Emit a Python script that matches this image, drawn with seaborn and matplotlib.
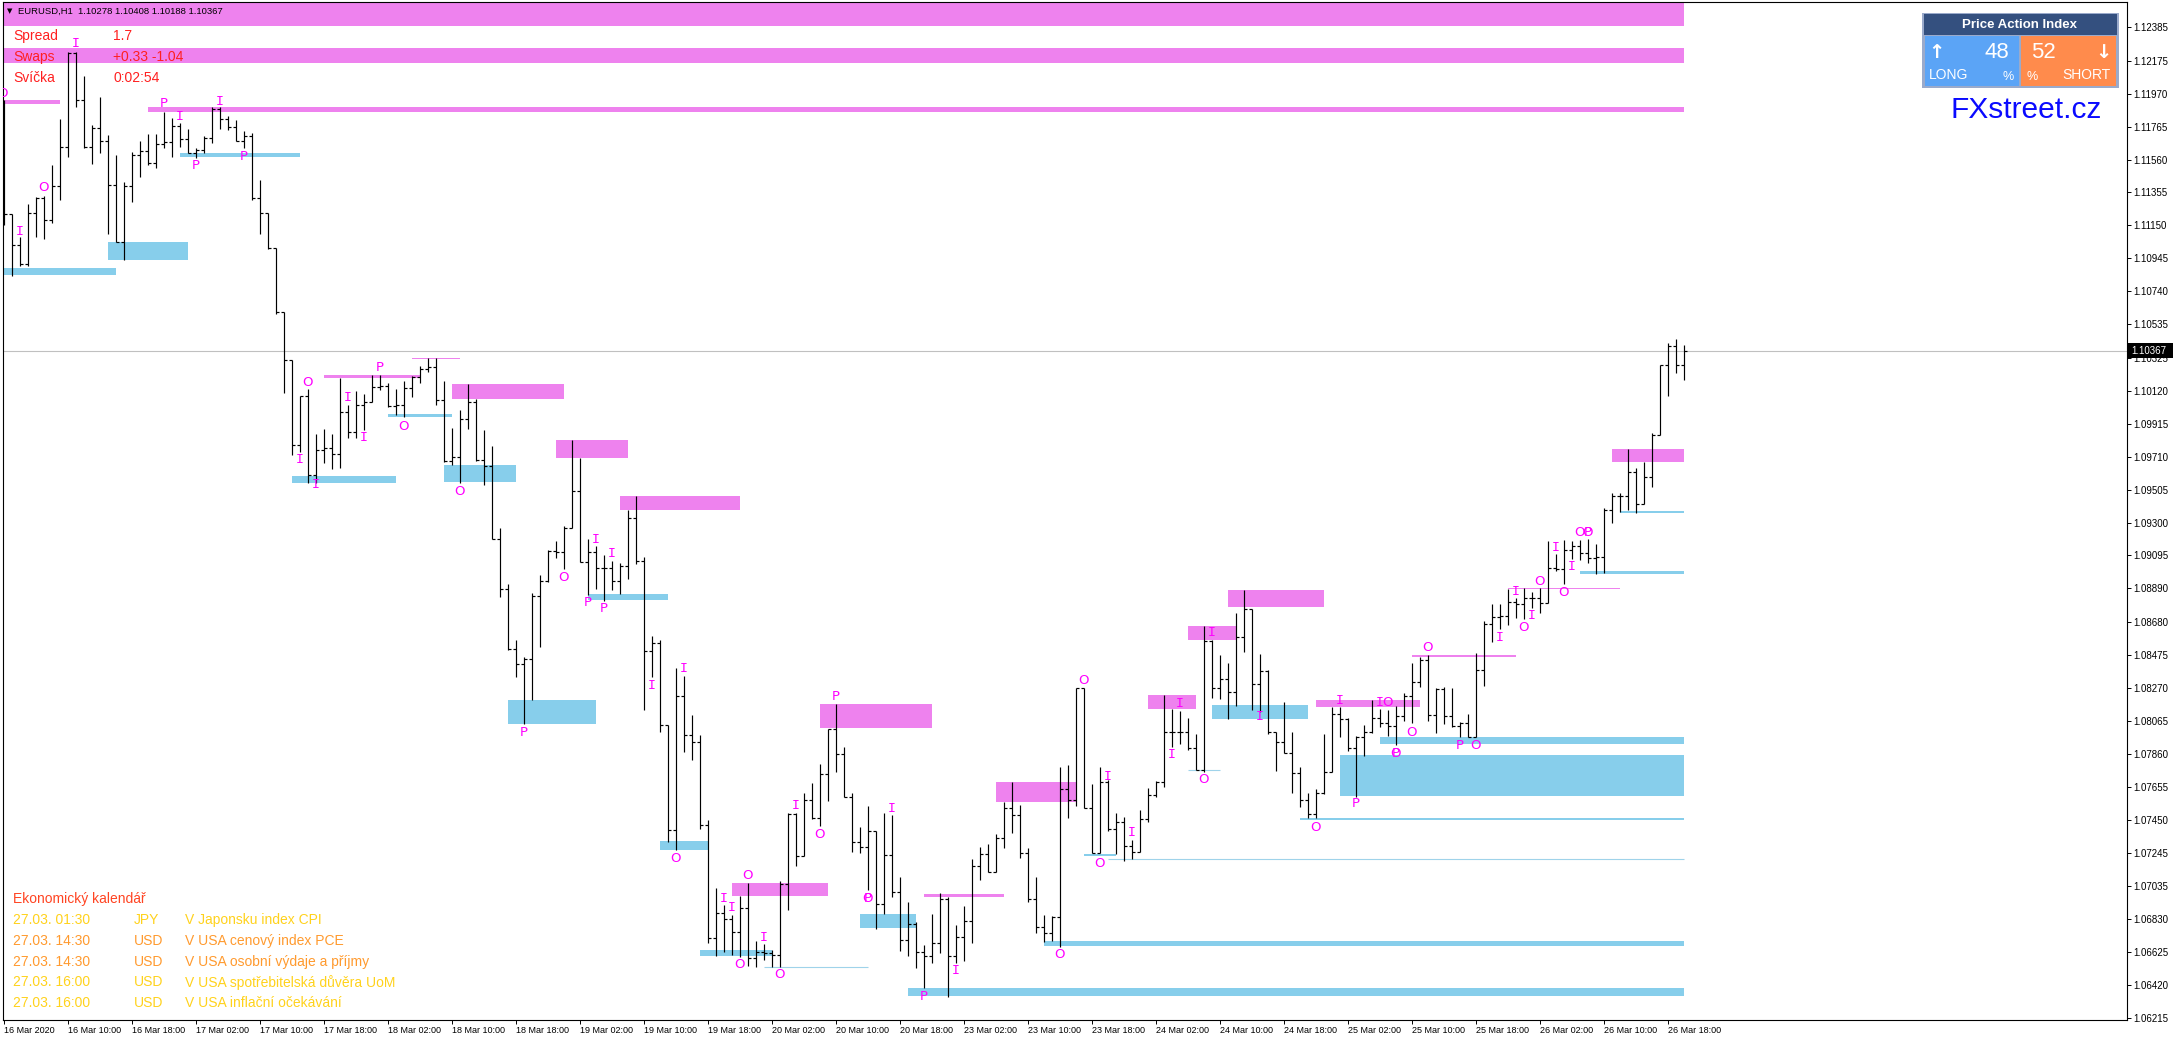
import matplotlib
matplotlib.use("Agg")
import matplotlib.pyplot as plt
import seaborn as sns
import pandas as pd
from matplotlib.patches import Rectangle

# ---- EURUSD H1 bars (16 Mar 02:00 .. 26 Mar 20:00) ----
opens = [1.11899, 1.11221, 1.11028, 1.10909, 1.11227, 1.11320, 1.11183, 1.11395, 1.11638, 1.12223,
         1.11930, 1.11638, 1.11756, 1.11675, 1.11401, 1.11046, 1.11395, 1.11588, 1.11613, 1.11538,
         1.11656, 1.11669, 1.11769, 1.11688, 1.11600, 1.11619, 1.11694, 1.11874, 1.11812, 1.11762,
         1.11675, 1.11706, 1.11320, 1.11227, 1.11009, 1.10611, 1.10312, 1.09782, 1.10088, 1.09596,
         1.09751, 1.09764, 1.09726, 1.09988, 1.09863, 1.10032, 1.10050, 1.10144, 1.10150, 1.10025,
         1.10032, 1.10137, 1.10206, 1.10256, 1.10268, 1.10063, 1.09683, 1.09708, 1.09944, 1.10050,
         1.09689, 1.09652, 1.09197, 1.08886, 1.08512, 1.08419, 1.08450, 1.08842, 1.08936, 1.09123,
         1.09116, 1.09266, 1.09496, 1.09054, 1.09116, 1.09017, 1.09017, 1.08936, 1.09029, 1.09328,
         1.09060, 1.08500, 1.08550, 1.08039, 1.07385, 1.08220, 1.07977, 1.07933, 1.07417, 1.06713,
         1.06869, 1.06831, 1.06750, 1.06900, 1.06589, 1.06626, 1.06620, 1.06607, 1.07049, 1.07485,
         1.07224, 1.07572, 1.07460, 1.07734, 1.08014, 1.07859, 1.07591, 1.07311, 1.07280, 1.07379,
         1.06925, 1.07230, 1.06999, 1.06701, 1.06800, 1.06626, 1.06601, 1.06682, 1.06956, 1.06601,
         1.06719, 1.06819, 1.07161, 1.07236, 1.07124, 1.07336, 1.07522, 1.07479, 1.07242, 1.06956,
         1.06782, 1.06744, 1.06844, 1.07641, 1.07572, 1.08270, 1.07522, 1.07242, 1.07684, 1.07392,
         1.07435, 1.07286, 1.07248, 1.07454, 1.07603, 1.07684, 1.07996, 1.07996, 1.07996, 1.07896,
         1.07759, 1.08562, 1.08270, 1.08326, 1.08245, 1.08587, 1.08761, 1.08294, 1.08375, 1.07996,
         1.07933, 1.07865, 1.07740, 1.07572, 1.07485, 1.07616, 1.07747, 1.08108, 1.08077, 1.07896,
         1.07964, 1.07996, 1.08083, 1.08052, 1.08033, 1.08095, 1.08220, 1.08307, 1.08444, 1.08101,
         1.08263, 1.08095, 1.08033, 1.08052, 1.07964, 1.08382, 1.08668, 1.08712, 1.08718, 1.08805,
         1.08792, 1.08830, 1.08830, 1.08799, 1.09017, 1.09010, 1.09129, 1.09154, 1.09110, 1.09079,
         1.09085, 1.09378, 1.09465, 1.09465, 1.09614, 1.09415, 1.09583, 1.09845, 1.10281, 1.10399,
         1.10278]
highs = [1.11930, 1.11221, 1.11077, 1.11283, 1.11327, 1.11333, 1.11526, 1.11812, 1.12229, 1.12229,
         1.12080, 1.11775, 1.11949, 1.11713, 1.11588, 1.11420, 1.11607, 1.11675, 1.11719, 1.11719,
         1.11856, 1.11818, 1.11787, 1.11750, 1.11632, 1.11706, 1.11887, 1.11887, 1.11831, 1.11806,
         1.11737, 1.11725, 1.11432, 1.11227, 1.11009, 1.10611, 1.10312, 1.10088, 1.10131, 1.09851,
         1.09882, 1.09851, 1.10200, 1.10032, 1.10119, 1.10100, 1.10218, 1.10218, 1.10168, 1.10131,
         1.10181, 1.10212, 1.10274, 1.10324, 1.10324, 1.10181, 1.09888, 1.10000, 1.10162, 1.10069,
         1.09876, 1.09776, 1.09266, 1.08917, 1.08568, 1.08463, 1.08861, 1.08973, 1.09129, 1.09185,
         1.09278, 1.09814, 1.09701, 1.09197, 1.09154, 1.09098, 1.09060, 1.09048, 1.09378, 1.09465,
         1.09085, 1.08593, 1.08568, 1.08039, 1.08394, 1.08344, 1.08101, 1.07977, 1.07448, 1.07024,
         1.06919, 1.06856, 1.06975, 1.07055, 1.06694, 1.06676, 1.06638, 1.07068, 1.07491, 1.07491,
         1.07616, 1.07678, 1.07796, 1.08014, 1.08170, 1.07902, 1.07616, 1.07404, 1.07535, 1.07379,
         1.07491, 1.07479, 1.07093, 1.06937, 1.06813, 1.06669, 1.06862, 1.06993, 1.06968, 1.06794,
         1.06912, 1.07205, 1.07280, 1.07298, 1.07361, 1.07560, 1.07684, 1.07541, 1.07273, 1.07093,
         1.06856, 1.06850, 1.07778, 1.07790, 1.08270, 1.08270, 1.07672, 1.07778, 1.07697, 1.07491,
         1.07466, 1.07323, 1.07510, 1.07647, 1.07691, 1.08226, 1.08139, 1.08126, 1.08083, 1.07983,
         1.08656, 1.08568, 1.08475, 1.08425, 1.08737, 1.08880, 1.08761, 1.08481, 1.08382, 1.07996,
         1.08182, 1.07996, 1.07778, 1.07616, 1.07641, 1.07983, 1.08151, 1.08151, 1.08083, 1.07971,
         1.08039, 1.08195, 1.08139, 1.08133, 1.08157, 1.08238, 1.08425, 1.08463, 1.08475, 1.08270,
         1.08276, 1.08270, 1.08058, 1.08108, 1.08487, 1.08687, 1.08792, 1.08792, 1.08886, 1.08830,
         1.08892, 1.08867, 1.08892, 1.09185, 1.09104, 1.09191, 1.09185, 1.09191, 1.09197, 1.09166,
         1.09390, 1.09484, 1.09484, 1.09758, 1.09639, 1.09677, 1.09857, 1.10281, 1.10418, 1.10442,
         1.10408]
lows = [1.11152, 1.10835, 1.10897, 1.10897, 1.11077, 1.11065, 1.11165, 1.11308, 1.11576, 1.11887,
        1.11632, 1.11532, 1.11600, 1.11096, 1.11046, 1.10934, 1.11295, 1.11451, 1.11526, 1.11507,
        1.11632, 1.11576, 1.11638, 1.11600, 1.11569, 1.11600, 1.11663, 1.11750, 1.11744, 1.11675,
        1.11632, 1.11308, 1.11096, 1.11003, 1.10598, 1.10106, 1.09720, 1.09739, 1.09546, 1.09546,
        1.09670, 1.09633, 1.09639, 1.09826, 1.09826, 1.09876, 1.10050, 1.10125, 1.10019, 1.09969,
        1.09957, 1.10081, 1.10168, 1.10237, 1.10032, 1.09677, 1.09658, 1.09546, 1.09882, 1.09683,
        1.09533, 1.09197, 1.08836, 1.08506, 1.08338, 1.08045, 1.08195, 1.08525, 1.08930, 1.09079,
        1.09010, 1.09266, 1.09054, 1.08849, 1.08886, 1.08811, 1.08880, 1.08855, 1.08948, 1.09042,
        1.08133, 1.08338, 1.07996, 1.07311, 1.07261, 1.07871, 1.07821, 1.07392, 1.06682, 1.06601,
        1.06626, 1.06607, 1.06595, 1.06539, 1.06533, 1.06576, 1.06533, 1.06533, 1.06887, 1.07161,
        1.07224, 1.07454, 1.07410, 1.07566, 1.07747, 1.07591, 1.07248, 1.07242, 1.07012, 1.06769,
        1.06862, 1.06968, 1.06632, 1.06601, 1.06526, 1.06402, 1.06557, 1.06620, 1.06346, 1.06557,
        1.06570, 1.06682, 1.07074, 1.07124, 1.07124, 1.07273, 1.07367, 1.07211, 1.06937, 1.06744,
        1.06688, 1.06694, 1.06657, 1.07460, 1.07535, 1.07522, 1.07242, 1.07242, 1.07379, 1.07236,
        1.07192, 1.07205, 1.07248, 1.07435, 1.07591, 1.07653, 1.07902, 1.07921, 1.07884, 1.07759,
        1.07747, 1.08207, 1.08201, 1.08077, 1.08157, 1.08494, 1.08133, 1.08120, 1.07983, 1.07753,
        1.07865, 1.07616, 1.07529, 1.07460, 1.07460, 1.07610, 1.07747, 1.07964, 1.07877, 1.07591,
        1.07846, 1.07989, 1.08027, 1.07971, 1.07915, 1.08064, 1.08052, 1.08276, 1.08064, 1.07989,
        1.08045, 1.08027, 1.07964, 1.07964, 1.07964, 1.08282, 1.08556, 1.08637, 1.08662, 1.08705,
        1.08699, 1.08768, 1.08737, 1.08799, 1.08998, 1.08917, 1.09073, 1.09067, 1.09048, 1.08979,
        1.08986, 1.09297, 1.09365, 1.09378, 1.09359, 1.09415, 1.09521, 1.09845, 1.10088, 1.10231,
        1.10188]
closes = [1.11221, 1.11028, 1.10909, 1.11227, 1.11320, 1.11183, 1.11395, 1.11638, 1.12223, 1.11930,
          1.11638, 1.11756, 1.11675, 1.11401, 1.11046, 1.11395, 1.11588, 1.11613, 1.11538, 1.11656,
          1.11669, 1.11769, 1.11688, 1.11600, 1.11619, 1.11694, 1.11874, 1.11812, 1.11762, 1.11675,
          1.11706, 1.11320, 1.11227, 1.11009, 1.10611, 1.10312, 1.09782, 1.10088, 1.09596, 1.09751,
          1.09764, 1.09726, 1.09988, 1.09863, 1.10032, 1.10050, 1.10144, 1.10150, 1.10025, 1.10032,
          1.10137, 1.10206, 1.10256, 1.10268, 1.10063, 1.09683, 1.09708, 1.09944, 1.10050, 1.09689,
          1.09652, 1.09197, 1.08886, 1.08512, 1.08419, 1.08450, 1.08842, 1.08936, 1.09123, 1.09116,
          1.09266, 1.09496, 1.09054, 1.09116, 1.09017, 1.09017, 1.08936, 1.09029, 1.09328, 1.09060,
          1.08500, 1.08550, 1.08039, 1.07385, 1.08220, 1.07977, 1.07933, 1.07417, 1.06713, 1.06869,
          1.06831, 1.06750, 1.06900, 1.06589, 1.06626, 1.06620, 1.06607, 1.07049, 1.07485, 1.07224,
          1.07572, 1.07460, 1.07734, 1.08014, 1.07859, 1.07591, 1.07311, 1.07280, 1.07379, 1.06925,
          1.07230, 1.06999, 1.06701, 1.06800, 1.06626, 1.06601, 1.06682, 1.06956, 1.06601, 1.06719,
          1.06819, 1.07161, 1.07236, 1.07124, 1.07336, 1.07522, 1.07479, 1.07242, 1.06956, 1.06782,
          1.06744, 1.06844, 1.07641, 1.07572, 1.08270, 1.07522, 1.07242, 1.07684, 1.07392, 1.07435,
          1.07286, 1.07248, 1.07454, 1.07603, 1.07684, 1.07996, 1.07996, 1.07996, 1.07896, 1.07759,
          1.08562, 1.08270, 1.08326, 1.08245, 1.08587, 1.08761, 1.08294, 1.08375, 1.07996, 1.07933,
          1.07865, 1.07740, 1.07572, 1.07485, 1.07616, 1.07747, 1.08108, 1.08077, 1.07896, 1.07964,
          1.07996, 1.08083, 1.08052, 1.08033, 1.08095, 1.08220, 1.08307, 1.08444, 1.08101, 1.08263,
          1.08095, 1.08033, 1.08052, 1.07964, 1.08382, 1.08668, 1.08712, 1.08718, 1.08805, 1.08792,
          1.08830, 1.08830, 1.08799, 1.09017, 1.09010, 1.09129, 1.09154, 1.09110, 1.09079, 1.09085,
          1.09378, 1.09465, 1.09465, 1.09614, 1.09415, 1.09583, 1.09845, 1.10281, 1.10399, 1.10278,
          1.10367]
current_price = 1.10367

date_labels = ["16 Mar 2020", "16 Mar 10:00", "16 Mar 18:00", "17 Mar 02:00", "17 Mar 10:00",
               "17 Mar 18:00", "18 Mar 02:00", "18 Mar 10:00", "18 Mar 18:00", "19 Mar 02:00",
               "19 Mar 10:00", "19 Mar 18:00", "20 Mar 02:00", "20 Mar 10:00", "20 Mar 18:00",
               "23 Mar 02:00", "23 Mar 10:00", "23 Mar 18:00", "24 Mar 02:00", "24 Mar 10:00",
               "24 Mar 18:00", "25 Mar 02:00", "25 Mar 10:00", "25 Mar 18:00", "26 Mar 02:00",
               "26 Mar 10:00", "26 Mar 18:00"]
price_ticks = [1.12385, 1.12175, 1.11970, 1.11765, 1.11560, 1.11355, 1.11150, 1.10945, 1.10740,
               1.10535, 1.10325, 1.10120, 1.09915, 1.09710, 1.09505, 1.09300, 1.09095, 1.08890,
               1.08680, 1.08475, 1.08270, 1.08065, 1.07860, 1.07655, 1.07450, 1.07245, 1.07035,
               1.06830, 1.06625, 1.06420, 1.06215]

# supply (violet) zones: start bar, end bar, top, bottom
supply_start = [0, 0, 0, 18, 40, 51, 56, 69, 77, 91, 102, 115, 124, 143, 148, 153, 164, 176, 188, 201]
supply_end = [210, 210, 7, 210, 52, 57, 70, 78, 92, 103, 116, 125, 134, 149, 154, 165, 177, 189, 202, 210]
supply_top = [1.12600, 1.12254, 1.11930, 1.11887, 1.10218, 1.10327, 1.10162, 1.09814, 1.09465, 1.07055,
              1.08170, 1.06987, 1.07684, 1.08226, 1.08656, 1.08880, 1.08195, 1.08475, 1.08895, 1.09758]
supply_bottom = [1.12391, 1.12161, 1.11906, 1.11856, 1.10200, 1.10321, 1.10069, 1.09701, 1.09378, 1.06975,
                 1.08021, 1.06968, 1.07560, 1.08139, 1.08568, 1.08774, 1.08151, 1.08463, 1.08889, 1.09677]

# demand (sky blue) zones
demand_start = [0, 13, 22, 36, 48, 55, 73, 63, 82, 87, 107, 113, 130, 135, 151, 162, 172, 167, 197, 202]
demand_end = [14, 23, 37, 49, 56, 64, 83, 74, 88, 96, 114, 210, 210, 139, 163, 210, 210, 210, 210, 210]
demand_top = [1.10884, 1.11046, 1.11600, 1.09589, 1.09975, 1.09658, 1.08855, 1.08195, 1.07317, 1.06638,
              1.06862, 1.06402, 1.06694, 1.07236, 1.08164, 1.07460, 1.07964, 1.07852, 1.08998, 1.09372]
demand_bottom = [1.10841, 1.10934, 1.11576, 1.09546, 1.09957, 1.09552, 1.08817, 1.08045, 1.07261, 1.06601,
                 1.06775, 1.06352, 1.06663, 1.07224, 1.08077, 1.07448, 1.07921, 1.07597, 1.08979, 1.09359]

# thin light-blue levels
level_start = [95, 138, 148]
level_end = [108, 210, 152]
level_price = [1.06533, 1.07205, 1.07759]

# P / I / O markers
label_text = ["O", "I", "I", "O", "P", "I", "I", "P", "P", "O", "I", "I", "I", "I", "P", "O",
              "O", "O", "P", "I", "I", "P", "P", "I", "I", "O", "P", "I", "O", "O", "I", "I",
              "O", "I", "O", "O", "P", "I", "P", "I", "O", "O", "O", "I", "I", "I", "I", "O",
              "I", "I", "O", "P", "I", "I", "O", "O", "P", "O", "O", "P", "O", "I", "I", "O",
              "I", "O", "O", "I", "I", "O", "O", "P"]
label_bar = [-0.2, 9, 2, 5, 20, 22, 27, 24, 30, 38, 37, 39, 43, 45, 47, 50,
             57, 70, 65, 74, 76, 73, 75, 81, 85, 84, 104, 99, 102, 93, 90, 91,
             92, 95, 97, 108, 108, 111, 115, 119, 132, 135, 137, 138, 141, 147, 146, 150,
             151, 157, 164, 169, 167, 172, 173, 174, 174, 176, 178, 182, 184, 187, 189, 190,
             191, 192, 195, 194, 196, 197, 198, 198]
label_price = [1.11974, 1.12285, 1.11115, 1.11383, 1.11906, 1.11831, 1.11924, 1.11526, 1.11582, 1.10175,
               1.09695, 1.09540, 1.10081, 1.09832, 1.10268, 1.09901, 1.09496, 1.08961, 1.07996, 1.09197,
               1.09110, 1.08805, 1.08768, 1.08288, 1.08394, 1.07211, 1.08220, 1.07541, 1.07361, 1.07105,
               1.06962, 1.06906, 1.06551, 1.06719, 1.06489, 1.06962, 1.06962, 1.07522, 1.06352, 1.06514,
               1.06613, 1.08319, 1.07180, 1.07722, 1.07373, 1.08176, 1.07859, 1.07703, 1.08618, 1.08095,
               1.07404, 1.07553, 1.08195, 1.08182, 1.08182, 1.07865, 1.07865, 1.07996, 1.08525, 1.07915,
               1.07915, 1.08587, 1.08873, 1.08649, 1.08724, 1.08930, 1.08867, 1.09147, 1.09029, 1.09241,
               1.09241, 1.09241]

info_names = ["Spread", "Swaps", "Svíčka"]
info_values = ["1.7", "+0.33 -1.04", "0:02:54"]

cal_times = ["27.03. 01:30", "27.03. 14:30", "27.03. 14:30", "27.03. 16:00", "27.03. 16:00"]
cal_currency = ["JPY", "USD", "USD", "USD", "USD"]
cal_events = ["V Japonsku index CPI", "V USA cenový index PCE", "V USA osobní výdaje a příjmy",
              "V USA spotřebitelská důvěra UoM", "V USA inflační očekávání"]
cal_colors = ["#ffd21c", "#ff9a2e", "#ff9a2e", "#ffd21c", "#ffd21c"]

long_pct = 48
short_pct = 52

df = pd.DataFrame({"open": opens, "high": highs, "low": lows, "close": closes})
df["bar"] = range(len(df))

sns.set_theme(style="white")
plt.rcParams["font.family"] = ["Liberation Sans", "DejaVu Sans"]

W, H = 2173, 1041
fig = plt.figure(figsize=(W / 100, H / 100), dpi=100)
fig.patch.set_facecolor("white")
ax = fig.add_axes([3 / W, 21 / H, 2124 / W, 1018 / H])
ax.set_facecolor("white")
ax.set_xlim(-0.0875, 265.41)
ax.set_ylim(1.06203, 1.12541)

for s, e, t, b in zip(supply_start, supply_end, supply_top, supply_bottom):
    ax.add_patch(Rectangle((s, b), e - s, t - b, facecolor="#ee82ee", edgecolor="none", zorder=1))
for s, e, t, b in zip(demand_start, demand_end, demand_top, demand_bottom):
    ax.add_patch(Rectangle((s, b), e - s, t - b, facecolor="#87ceeb", edgecolor="none", zorder=1))
ax.hlines(level_price, level_start, level_end, color="#9fd3ea", lw=0.8, zorder=1)

ax.axhline(current_price, color="#c0c0c0", lw=0.8, zorder=1.5)

# OHLC bars
ax.vlines(df["bar"], df["low"], df["high"], color="black", lw=0.85, zorder=2)
ax.hlines(df["open"], df["bar"] - 0.375, df["bar"], color="black", lw=0.85, zorder=2)
ax.hlines(df["close"], df["bar"], df["bar"] + 0.375, color="black", lw=0.85, zorder=2)

for t, b, p in zip(label_text, label_bar, label_price):
    fam = "DejaVu Sans Mono" if t == "I" else "DejaVu Sans"
    ax.text(b, p, t, color="#ff00ff", fontsize=9.5, family=fam, ha="center", va="center",
            zorder=3, clip_on=True)

for sp in ax.spines.values():
    sp.set_color("black")
    sp.set_linewidth(0.8)

ax.set_xticks(range(0, len(df), 8))
ax.set_xticklabels(date_labels, ha="left")
ax.tick_params(axis="x", bottom=True, length=3, width=0.7, pad=1.5, labelsize=6.5,
               colors="black", direction="out")
ax.yaxis.tick_right()
ax.set_yticks(price_ticks)
ax.set_yticklabels([f"{v:.5f}" for v in price_ticks])
ax.tick_params(axis="y", right=True, left=False, labelright=True, labelleft=False,
               length=3, width=0.7, pad=1.5, labelsize=7, colors="black", direction="out")
ax.grid(False)


def fx(x):
    return x / W


def fy(y):
    return 1 - y / H


# current price label
fig.add_artist(Rectangle((fx(2128), fy(358)), 45 / W, 15 / H, transform=fig.transFigure,
                         facecolor="black", edgecolor="none", zorder=5))
fig.text(fx(2131), fy(351), f"{current_price:.5f}", color="white", fontsize=7,
         va="center", ha="left", zorder=6)

# header texts
fig.text(fx(7), fy(11), "▼", fontsize=5, color="black", va="center", ha="left",
         family=["DejaVu Sans"])
fig.text(fx(18), fy(11), f"EURUSD,H1  {opens[-1]:.5f} {highs[-1]:.5f} {lows[-1]:.5f} {closes[-1]:.5f}",
         fontsize=6.8, color="black", va="center", ha="left")
for k, (name, val) in enumerate(zip(info_names, info_values)):
    yy = 36 + 21 * k
    fig.text(fx(13), fy(yy), name, fontsize=10, color="#ff2020", va="center", ha="left")
    fig.text(fx(113), fy(yy), val, fontsize=10, color="#ff2020", va="center", ha="left")

# calendar
fig.text(fx(13), fy(899), "Ekonomický kalendář", fontsize=10, color="#ff4422", va="center", ha="left")
for k in range(len(cal_times)):
    yy = 920 + 20.8 * k
    fig.text(fx(13), fy(yy), cal_times[k], fontsize=10, color=cal_colors[k], va="center", ha="left")
    fig.text(fx(134), fy(yy), cal_currency[k], fontsize=10, color=cal_colors[k], va="center", ha="left")
    fig.text(fx(185), fy(yy), cal_events[k], fontsize=10, color=cal_colors[k], va="center", ha="left")

# Price Action Index panel
fig.add_artist(Rectangle((fx(1922), fy(88)), 197 / W, 75 / H, transform=fig.transFigure,
                         facecolor="#9aaacb", edgecolor="none", zorder=4))
fig.add_artist(Rectangle((fx(1924), fy(35)), 193 / W, 21 / H, transform=fig.transFigure,
                         facecolor="#34507f", edgecolor="none", zorder=5))
fig.add_artist(Rectangle((fx(1925), fy(86)), 94 / W, 50 / H, transform=fig.transFigure,
                         facecolor="#5ba4f6", edgecolor="none", zorder=5))
fig.add_artist(Rectangle((fx(2021), fy(86)), 95 / W, 50 / H, transform=fig.transFigure,
                         facecolor="#ff8b4c", edgecolor="none", zorder=5))
fig.text(fx(2020), fy(25), "Price Action Index", fontsize=9.5, fontweight="bold", color="white",
         va="center", ha="center", zorder=6)
fig.text(fx(1936), fy(52), "↑", fontsize=14, fontweight="bold", color="white", va="center",
         ha="center", zorder=6, family=["DejaVu Sans"])
fig.text(fx(2009), fy(53), str(long_pct), fontsize=16, color="white", va="center", ha="right", zorder=6)
fig.text(fx(1929), fy(75), "LONG", fontsize=10, color="white", va="center", ha="left", zorder=6)
fig.text(fx(2008), fy(77), "%", fontsize=9, color="white", va="center", ha="center", zorder=6)
fig.text(fx(2031), fy(53), str(short_pct), fontsize=16, color="white", va="center", ha="left", zorder=6)
fig.text(fx(2103), fy(52), "↓", fontsize=14, fontweight="bold", color="white", va="center",
         ha="center", zorder=6, family=["DejaVu Sans"])
fig.text(fx(2032), fy(77), "%", fontsize=9, color="white", va="center", ha="center", zorder=6)
fig.text(fx(2111), fy(75), "SHORT", fontsize=10, color="white", va="center", ha="right", zorder=6)
fig.text(fx(2026), fy(110), "FXstreet.cz", fontsize=21.5, color="#0a0aff", va="center", ha="center",
         zorder=6)

fig.savefig("out.png", dpi=100)
